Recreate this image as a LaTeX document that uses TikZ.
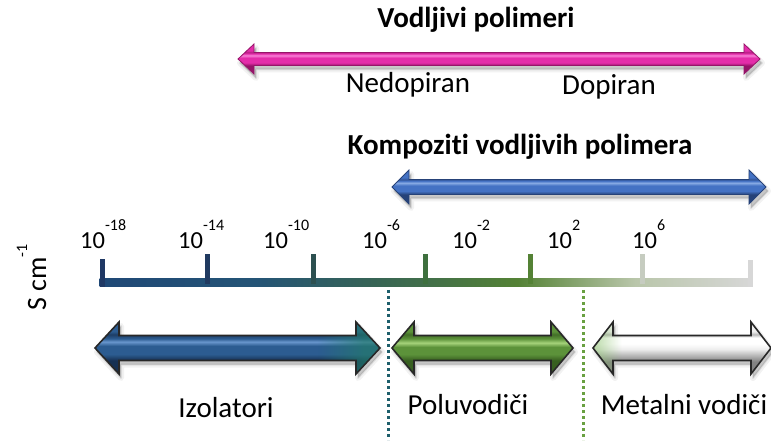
\documentclass[tikz,border=0pt]{standalone}
\usepackage{fontspec}
\setmainfont{Carlito}[Ligatures=NoCommon]
\usetikzlibrary{fadings}
% colours
\definecolor{pkD}{RGB}{150,20,105}
\definecolor{pkM}{RGB}{228,45,170}
\definecolor{pkL}{RGB}{248,130,215}
\definecolor{tbD}{RGB}{38,66,120}
\definecolor{tbM}{RGB}{68,114,196}
\definecolor{tbL}{RGB}{135,170,228}
\definecolor{izD}{RGB}{22,48,82}
\definecolor{izM}{RGB}{44,92,145}
\definecolor{izL}{RGB}{105,150,205}
\definecolor{grD}{RGB}{55,95,32}
\definecolor{grM}{RGB}{92,146,58}
\definecolor{grL}{RGB}{165,210,122}
\definecolor{whD}{RGB}{130,130,130}
\definecolor{whM}{RGB}{238,238,238}
\definecolor{whL}{RGB}{255,255,255}
\definecolor{outl}{RGB}{40,40,40}
\definecolor{ax1}{RGB}{31,72,118}
\definecolor{ax2}{RGB}{36,84,118}
\definecolor{ax3}{RGB}{55,100,85}
\definecolor{ax4}{RGB}{84,130,53}
\definecolor{ax5}{RGB}{185,198,170}
\definecolor{ax6}{RGB}{215,215,215}
\definecolor{tk1}{RGB}{31,56,100}
\definecolor{tk2}{RGB}{32,58,96}
\definecolor{tk3}{RGB}{45,80,80}
\definecolor{tk4}{RGB}{62,112,62}
\definecolor{tk5}{RGB}{84,130,53}
\definecolor{tk6}{RGB}{198,204,192}
\definecolor{tk7}{RGB}{215,215,215}
\definecolor{dotA}{RGB}{30,95,108}
\definecolor{dotB}{RGB}{105,160,65}
\definecolor{tealtint}{RGB}{35,125,105}
\definecolor{greentint}{RGB}{140,195,110}
% shadings (path spans 25bp..75bp)
\pgfdeclarehorizontalshading{axisgrad}{100bp}{color(0bp)=(ax1); color(25bp)=(ax1); color(37bp)=(ax2); color(46bp)=(ax3); color(57bp)=(ax4); color(66bp)=(ax5); color(75bp)=(ax6); color(100bp)=(ax6)}
\pgfdeclareverticalshading{pinkshade}{100bp}{color(0bp)=(pkD); color(39bp)=(pkD); color(44bp)=(pkM); color(52bp)=(pkM); color(56bp)=(pkL); color(59bp)=(pkM); color(61bp)=(pkD!60!pkM); color(64bp)=(pkM); color(100bp)=(pkM)}
\pgfdeclareverticalshading{tblueshade}{100bp}{color(0bp)=(tbD); color(39bp)=(tbD); color(44bp)=(tbM); color(52bp)=(tbM); color(56bp)=(tbL); color(59bp)=(tbM); color(61bp)=(tbD!60!tbM); color(64bp)=(tbM); color(100bp)=(tbM)}
\pgfdeclareverticalshading{izoshade}{100bp}{color(0bp)=(izD); color(38bp)=(izD); color(44bp)=(izM); color(52bp)=(izM); color(56bp)=(izL); color(59bp)=(izM); color(63bp)=(izD!70!izM); color(66bp)=(izM); color(100bp)=(izM)}
\pgfdeclareverticalshading{grshade}{100bp}{color(0bp)=(grD); color(38bp)=(grD); color(44bp)=(grM); color(51bp)=(grM); color(55bp)=(grL); color(59bp)=(grM); color(63bp)=(grD!70!grM); color(66bp)=(grM); color(100bp)=(grM)}
\pgfdeclareverticalshading{whshade}{100bp}{color(0bp)=(whD); color(37bp)=(whD); color(43bp)=(whD!50!whM); color(49bp)=(whM); color(54bp)=(whL); color(60bp)=(whL); color(63bp)=(whD!50!whM); color(66bp)=(whM); color(100bp)=(whM)}
% fading masks (black = transparent, white = opaque)
\pgfdeclarehorizontalshading{maskR}{100bp}{color(0bp)=(black); color(64bp)=(black); color(72bp)=(gray!70); color(100bp)=(gray!70)}
\pgfdeclarehorizontalshading{maskL}{100bp}{color(0bp)=(gray!80); color(25bp)=(gray!80); color(33bp)=(black); color(100bp)=(black)}
\pgfdeclarefading{fadeR}{\pgfuseshading{maskR}}
\pgfdeclarefading{fadeL}{\pgfuseshading{maskL}}
% block double arrow: x1, x2, yc, head half height, shaft half height, head length, style
\newcommand\blockarrow[7]{%
  \path[#7] (#1,#3) -- ({#1+#6},{#3-#4}) -- ({#1+#6},{#3-#5}) -- ({#2-#6},{#3-#5})
    -- ({#2-#6},{#3-#4}) -- (#2,#3) -- ({#2-#6},{#3+#4}) -- ({#2-#6},{#3+#5})
    -- ({#1+#6},{#3+#5}) -- ({#1+#6},{#3+#4}) -- cycle;}
\newcommand\shadowarrow[6]{%
  \blockarrow{#1+2}{#2+2}{#3+4}{#4}{#5}{#6}{fill=black, fill opacity=0.07, draw=black, draw opacity=0.05, line width=6pt, line join=round}%
  \blockarrow{#1+2}{#2+2}{#3+4}{#4}{#5}{#6}{fill=black, fill opacity=0.12, draw=black, draw opacity=0.08, line width=2pt, line join=round}}
\tikzset{
  titletxt/.style={font=\bfseries\fontsize{29}{32}\selectfont, inner sep=0pt, anchor=base},
  lbltxt/.style={font=\fontsize{29}{32}\selectfont, inner sep=0pt, anchor=base},
  ticktxt/.style={font=\fontsize{24.5}{28}\selectfont, inner sep=0pt, anchor=base west},
  dotline/.style={line width=3pt, dash pattern=on 3pt off 3pt}
}
\newcommand\supsc[1]{\raisebox{18pt}{\fontsize{16}{17}\selectfont #1}}
\begin{document}
\begin{tikzpicture}[x=1pt, y=-1pt]
\useasboundingbox (0,0) rectangle (771,446);
% ---- top: conducting polymers
\node[titletxt] (tvp) at (476,28) {Vodljivi polimeri};
\shadowarrow{238}{760}{59}{15}{6.5}{16}
\blockarrow{238}{760}{59}{15}{6.5}{16}{shading=pinkshade, draw=pkD, line width=0.8pt}
\node[lbltxt] (nedop) at (408,93) {Nedopiran};
\node[lbltxt] (dop) at (609,95) {Dopiran};
% ---- composites
\node[titletxt] (komp) at (520,155) {Kompoziti vodljivih polimera};
\shadowarrow{392}{766}{187}{17}{7.5}{17}
\blockarrow{392}{766}{187}{17}{7.5}{17}{shading=tblueshade, draw=tbD, line width=0.8pt}
% ---- axis
\node[font=\fontsize{28}{30}\selectfont, inner sep=0pt, anchor=base west, rotate=90] (unit) at (46,311) {S cm\raisebox{19pt}{\fontsize{16}{17}\selectfont -1}};
\shade[shading=axisgrad] (99.5,279) rectangle (752.5,287);
\fill[tk1] (99.5,259) rectangle (104.5,287);
\fill[tk2] (204.5,254) rectangle (209.5,284);
\fill[tk3] (310.5,254) rectangle (315.5,284);
\fill[tk4] (422.5,254) rectangle (427.5,284);
\fill[tk5] (527.5,254) rectangle (532.5,284);
\fill[tk6] (639.5,254) rectangle (644.5,284);
\fill[tk7] (747.5,260) rectangle (752.5,287);
\node[ticktxt] (l18) at (80,249) {10\supsc{-18}};
\node[ticktxt] (l14) at (178,249) {10\supsc{-14}};
\node[ticktxt] (l10) at (263,249) {10\supsc{-10}};
\node[ticktxt] (l6) at (362,249) {10\supsc{-6}};
\node[ticktxt] (l2m) at (452,249) {10\supsc{-2}};
\node[ticktxt] (l2) at (547,249) {10\supsc{2}};
\node[ticktxt] (l6p) at (632,249) {10\supsc{6}};
% ---- boundaries
\coordinate (da1) at (388,290); \coordinate (da2) at (388,440);
\coordinate (db1) at (583,290); \coordinate (db2) at (583,440);
\draw[dotline, dotA] (da1) -- (da2);
\draw[dotline, dotB] (db1) -- (db2);
% ---- classes
\shadowarrow{95}{380}{348}{26}{12.5}{24}
\blockarrow{95}{380}{348}{26}{12.5}{24}{shading=izoshade}
\blockarrow{95}{380}{348}{26}{12.5}{24}{fill=tealtint, path fading=fadeR, fit fading=true}
\blockarrow{95}{380}{348}{26}{12.5}{24}{draw=outl, line width=1.6pt}
\shadowarrow{392}{573}{348}{26}{12.5}{22}
\blockarrow{392}{573}{348}{26}{12.5}{22}{shading=grshade, draw=outl, line width=1.6pt}
\shadowarrow{593}{771}{348}{26}{12.5}{20}
\blockarrow{593}{771}{348}{26}{12.5}{20}{shading=whshade}
\blockarrow{593}{771}{348}{26}{12.5}{20}{fill=greentint, path fading=fadeL, fit fading=true}
\blockarrow{593}{771}{348}{26}{12.5}{20}{draw=outl, line width=1.6pt}
\node[lbltxt] (izo) at (226,417) {Izolatori};
\node[lbltxt] (polu) at (468,414) {Poluvodiči};
\node[lbltxt] (metal) at (684,414) {Metalni vodiči};
\end{tikzpicture}
\end{document}
